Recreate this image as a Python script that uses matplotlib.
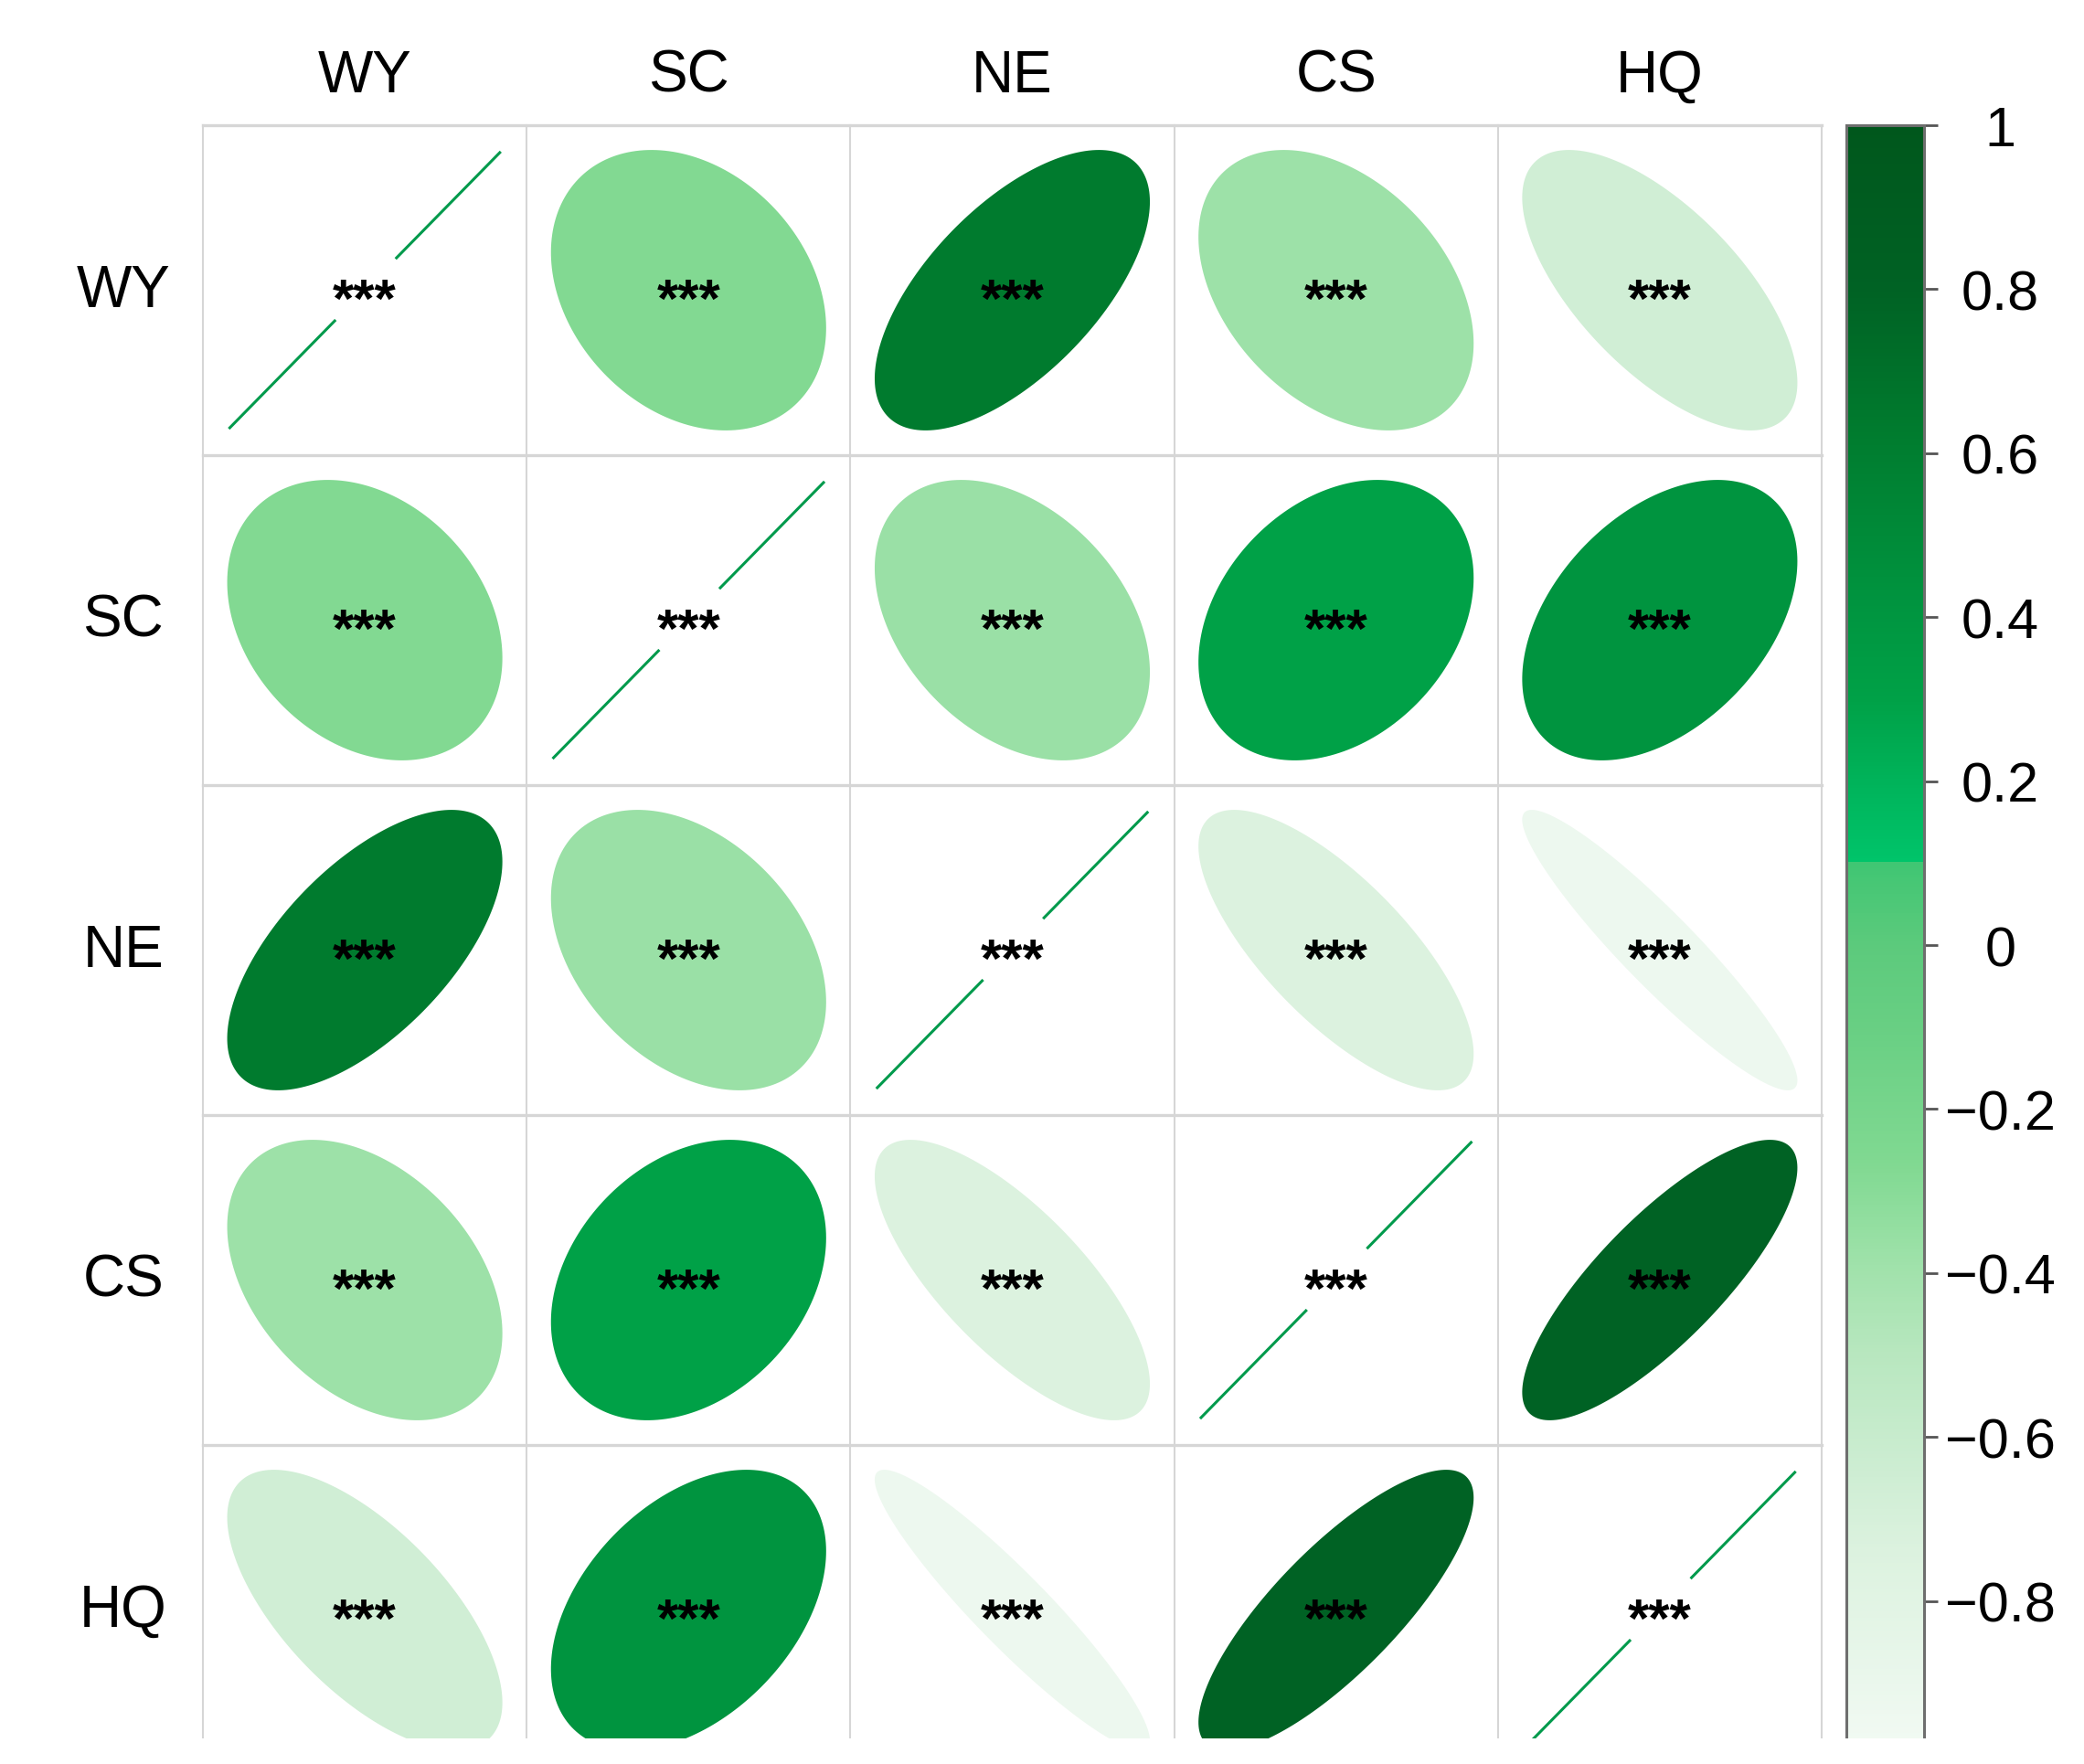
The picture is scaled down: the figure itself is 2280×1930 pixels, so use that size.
import numpy as np
import matplotlib
matplotlib.use('Agg')
import matplotlib.pyplot as plt
from matplotlib.colors import LinearSegmentedColormap, Normalize
from matplotlib.cm import ScalarMappable
from matplotlib.patches import Rectangle

plt.rcParams['font.family'] = ['Liberation Sans', 'DejaVu Sans']

labels = ['WY', 'SC', 'NE', 'CS', 'HQ']

r_wy = [1.00, -0.27, 0.63, -0.38, -0.66]
r_sc = [-0.27, 1.00, -0.37, 0.30, 0.42]
r_ne = [0.63, -0.37, 1.00, -0.74, -0.93]
r_cs = [-0.38, 0.30, -0.74, 1.00, 0.80]
r_hq = [-0.66, 0.42, -0.93, 0.80, 1.00]
stars = ['***', '***', '***', '***', '***']

cbar_ticks = [-0.8, -0.6, -0.4, -0.2, 0, 0.2, 0.4, 0.6, 0.8, 1]
cbar_labels = ['\u22120.8', '\u22120.6', '\u22120.4', '\u22120.2', '0',
               '0.2', '0.4', '0.6', '0.8', '1']

corr = np.array([r_wy, r_sc, r_ne, r_cs, r_hq])

# green palette, white at -1, dark green at +1
nodes = [(-1.0, '#f4fbf5'), (-0.9, '#eaf7ec'), (-0.74, '#dcf2df'),
         (-0.66, '#d0eed5'), (-0.5, '#b8e7bf'), (-0.38, '#9de1a8'),
         (-0.27, '#81d992'), (-0.1, '#68cf83'), (0.0, '#5cca7c'),
         (0.10, '#40c673'), (0.102, '#00c46a'), (0.2, '#00b35a'),
         (0.30, '#00a147'), (0.42, '#00943f'), (0.63, '#007b2e'),
         (0.80, '#006224'), (1.0, '#00571c')]
cmap = LinearSegmentedColormap.from_list(
    'greens', [((v + 1) / 2, c) for v, c in nodes], N=512)
norm = Normalize(-1, 1)

W, H = 2280, 1931
fig = plt.figure(figsize=(W / 100, H / 100), dpi=100)
fig.patch.set_facecolor('white')

# grid area in pixels
gx0, gx1, gy0, gy1 = 222, 1993, 138, 1943
ax = fig.add_axes([gx0 / W, 1 - gy1 / H, (gx1 - gx0) / W, (gy1 - gy0) / H])
ax.set_xlim(0, 5)
ax.set_ylim(5, 0)
ax.axis('off')

n = len(labels)
grid_col = '#d6d6d6'
for k in range(n + 1):
    ax.plot([k, k], [0, n], color=grid_col, lw=1.5, clip_on=False, zorder=1)
    ax.plot([0, n], [k, k], color=grid_col, lw=2.4, clip_on=False, zorder=1)

t = np.linspace(0, 2 * np.pi, 200)
s = 0.425
for i in range(n):
    for j in range(n):
        cx, cy = j + 0.5, i + 0.5
        r = corr[i, j]
        if i == j:
            # diagonal: a line broken around the stars
            ax.plot([cx - 0.42, cx - 0.09], [cy + 0.42, cy + 0.09],
                    color='#009a4c', lw=2.2, solid_capstyle='butt', zorder=2)
            ax.plot([cx + 0.095, cx + 0.42], [cy - 0.095, cy - 0.42],
                    color='#009a4c', lw=2.2, solid_capstyle='butt', zorder=2)
        else:
            d = np.arccos(r)
            ex = cx + s * np.cos(t + d / 2)
            ey = cy - s * np.cos(t - d / 2)
            ax.fill(ex, ey, color=cmap(norm(r)), lw=0, zorder=2)
        ax.text(cx, cy + 0.078, stars[i], ha='center', va='baseline',
                fontsize=43, fontweight='bold', color='black', zorder=3)

for k, lab in enumerate(labels):
    ax.text(k + 0.5, -0.15, lab, ha='center', va='center', fontsize=46,
            clip_on=False)
    ax.text(-0.246, k + 0.5, lab, ha='center', va='center', fontsize=46,
            clip_on=False)

# colour legend
cy0, cy1 = 138, 1932
cax = fig.add_axes([2020 / W, 1 - cy1 / H, 85 / W, (cy1 - cy0) / H])
cb = fig.colorbar(ScalarMappable(norm=norm, cmap=cmap), cax=cax)
cb.set_ticks(cbar_ticks)
cb.set_ticklabels(cbar_labels)
cb.outline.set_edgecolor('#6e6e6e')
cb.outline.set_linewidth(2.2)
cax.tick_params(direction='out', length=11, width=2, colors='#555555',
                labelcolor='black', labelsize=44, pad=49)
for tl in cax.get_yticklabels():
    tl.set_ha('center')

# picture is cut at the bottom
fig.add_artist(Rectangle((0, 0), 1, (H - 1903) / H, transform=fig.transFigure,
                         facecolor='white', edgecolor='none', zorder=100))

fig.savefig('out.png', dpi=100, facecolor='white')
